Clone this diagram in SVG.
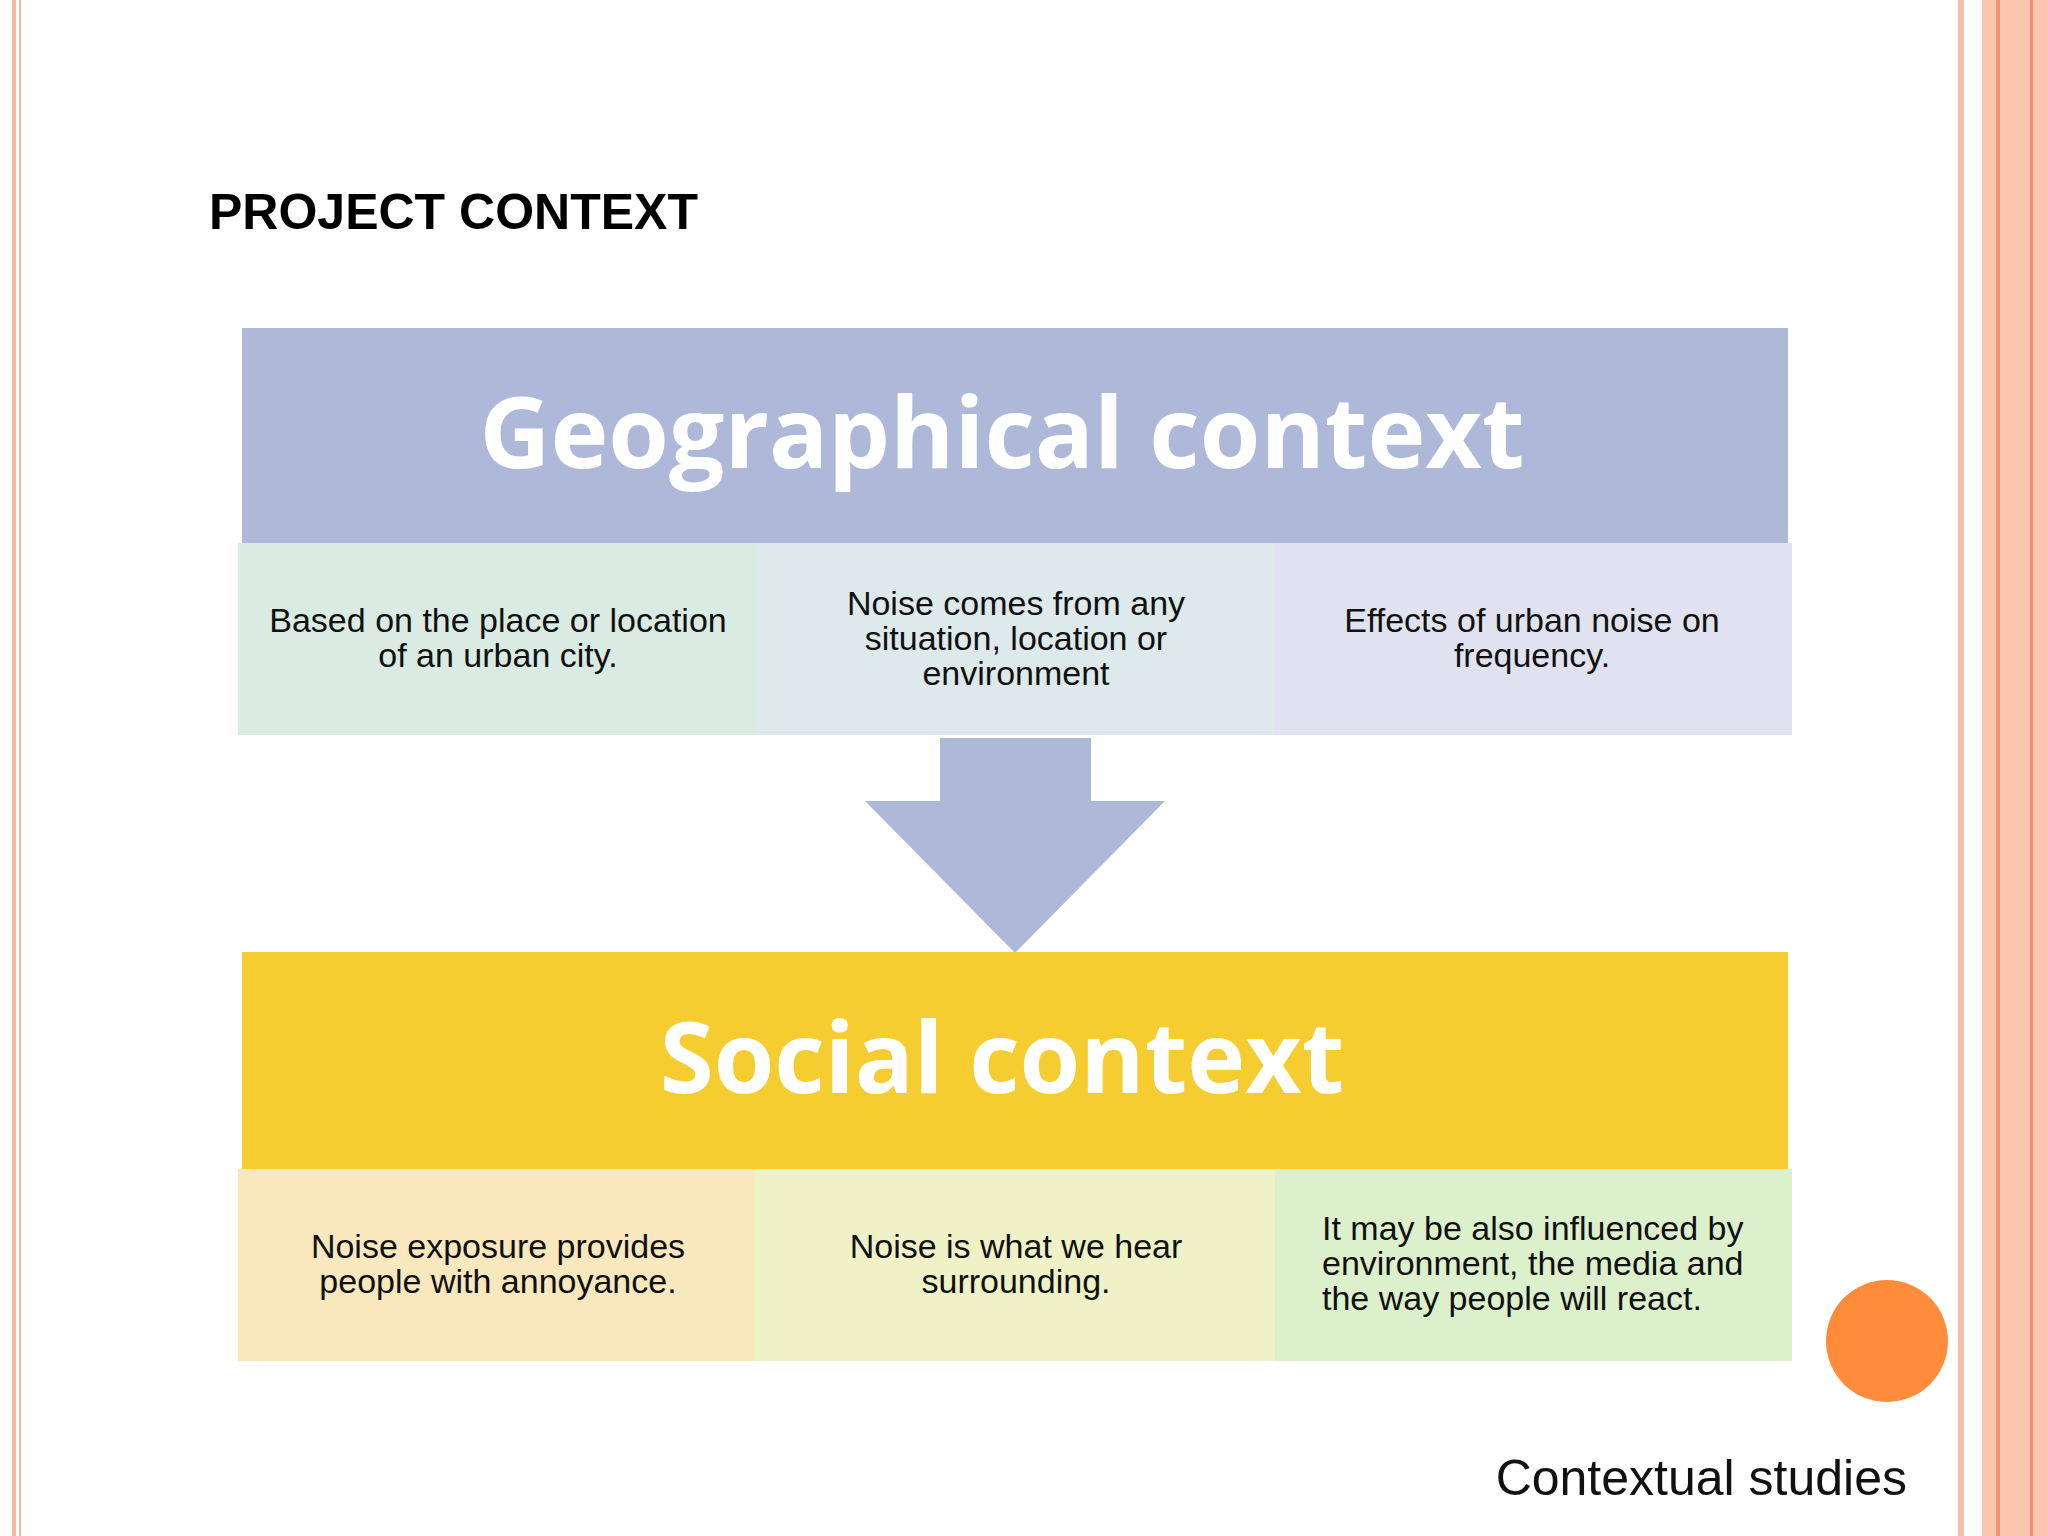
<svg xmlns="http://www.w3.org/2000/svg" width="2048" height="1536" viewBox="0 0 2048 1536">
<style>
.t{font-family:"Liberation Sans",Arial,sans-serif;font-size:34px;fill:#111;text-anchor:middle}
.l{text-anchor:start}
.h{font-family:"Open Sans","Liberation Sans",sans-serif;font-weight:bold;font-size:98px;fill:#fff;text-anchor:middle}
</style>
<rect width="2048" height="1536" fill="#fff"/>
<rect x="12" y="0" width="4" height="1536" fill="#F8B8A0"/>
<rect x="19" y="0" width="2" height="1536" fill="#F8B8A0"/>
<rect x="1958" y="0" width="6" height="1536" fill="#F9BDA6"/>
<rect x="1982" y="0" width="66" height="1536" fill="#FBC6B0"/>
<rect x="1996" y="0" width="4" height="1536" fill="#F59070"/>
<rect x="2030" y="0" width="3" height="1536" fill="#F59070"/>
<text x="209" y="229" font-family="Liberation Sans,Arial,sans-serif" font-weight="bold" font-size="50">PROJECT CONTEXT</text>
<g id="geo"><rect x="242" y="328" width="1546" height="215" fill="#AEB8D8"/><text class="h" x="1002" y="468">Geographical context</text></g>
<g id="g1"><rect x="238" y="543" width="517" height="192" fill="#DAEBE3"/><text class="t" x="498" y="632">Based on the place or location</text><text class="t" x="498" y="667">of an urban city.</text></g>
<g id="g2"><rect x="755" y="543" width="520" height="192" fill="#DDE9EA"/><text class="t" x="1016" y="615">Noise comes from any</text><text class="t" x="1016" y="650">situation, location or</text><text class="t" x="1016" y="685">environment</text></g>
<g id="g3"><rect x="1275" y="543" width="517" height="192" fill="#E0E3EF"/><text class="t" x="1532" y="632">Effects of urban noise on</text><text class="t" x="1532" y="667">frequency.</text></g>
<g id="connectors"><polygon points="940,738 1091,738 1091,801 1165,801 1015,953 865,801 940,801" fill="#AEB8D8"/></g>
<g id="soc"><rect x="242" y="952" width="1546" height="217" fill="#F5CD30"/><text class="h" x="1002" y="1093">Social context</text></g>
<g id="s1"><rect x="238" y="1169" width="517" height="192" fill="#F9E8BE"/><text class="t" x="498" y="1258">Noise exposure provides</text><text class="t" x="498" y="1293">people with annoyance.</text></g>
<g id="s2"><rect x="755" y="1169" width="520" height="192" fill="#EEF2C6"/><text class="t" x="1016" y="1258">Noise is what we hear</text><text class="t" x="1016" y="1293">surrounding.</text></g>
<g id="s3"><rect x="1275" y="1169" width="517" height="192" fill="#DCF0CC"/><text class="t l" x="1322" y="1240">It may be also influenced by</text><text class="t l" x="1322" y="1275">environment, the media and</text><text class="t l" x="1322" y="1310">the way people will react.</text></g>
<circle cx="1887" cy="1341" r="61" fill="#FF8C3A"/>
<text x="1907" y="1495" text-anchor="end" font-family="Liberation Sans,Arial,sans-serif" font-size="50" fill="#111">Contextual studies</text>
</svg>
